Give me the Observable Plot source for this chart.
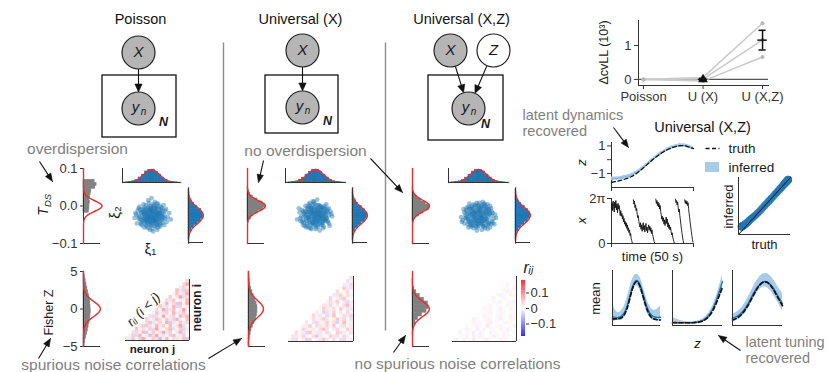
<!DOCTYPE html>
<html><head><meta charset="utf-8">
<script src="https://cdn.jsdelivr.net/npm/d3@7"></script>
<script src="https://cdn.jsdelivr.net/npm/@observablehq/plot@0.6"></script>
<style>
body{margin:0;background:#fff;}
#fig{position:relative;width:828px;height:372px;overflow:hidden;background:#fff;}
#fig svg text{font-family:'Liberation Sans',Arial,Helvetica,'DejaVu Sans',sans-serif !important;}
#fig g[aria-label*="axis"] text,#fig g[aria-label*="axis"]{font-size:13px;}
</style></head><body><div id="fig"></div>
<script>
// ===================== DATA =====================
// Delta cvLL per session (10^3) for the three models
const models = ["Poisson", "U (X)", "U (X,Z)"];
const cvllSessionA = [0, 0.06, 1.66];
const cvllSessionB = [0, 0.01, 1.17];
const cvllSessionC = [0, -0.05, 0.66];
const cvllMean = [0, 0.0, 1.16];
const cvllSem = [0, 0.03, 0.29];

// standard normal shape used by the fitted (red) curves
const gaussZ = [-3.5,-3.25,-3,-2.75,-2.5,-2.25,-2,-1.75,-1.5,-1.25,-1,-0.75,-0.5,-0.25,0,0.25,0.5,0.75,1,1.25,1.5,1.75,2,2.25,2.5,2.75,3,3.25,3.5];
const gaussPdf = [0.0009,0.0020,0.0044,0.0091,0.0175,0.0317,0.0540,0.0863,0.1295,0.1826,0.2420,0.3011,0.3521,0.3867,0.3989,0.3867,0.3521,0.3011,0.2420,0.1826,0.1295,0.0863,0.0540,0.0317,0.0175,0.0091,0.0044,0.0020,0.0009];

// T_DS histograms (densities, bin width 0.008)
const tdsPoissonStart = -0.018, tdsUXStart = -0.044, tdsUXZStart = -0.044, tdsBinWidth = 0.008;
const tdsPoissonDens = [8,9,9,10,9,10,11,12,18,20,17];
const tdsUXDens = [2,5,9,16,24,27,23,15,8,4,2,1];
const tdsUXZDens = [1,4,10,17,25,26,20,13,7,3,1,1];
const tdsFitMu = [0, 0, 0];
const tdsFitSd = [0.014, 0.0145, 0.0153];

// Fisher Z histograms (densities, bins of 0.5 from -5 to 5)
const fzStart = -5, fzBinWidth = 0.5;
const fzPoissonDens = [0.025,0.04,0.06,0.08,0.10,0.12,0.14,0.155,0.165,0.17,0.165,0.16,0.15,0.13,0.11,0.09,0.07,0.05,0.035,0.02];
const fzUXDens = [0.01,0.02,0.03,0.05,0.07,0.10,0.14,0.18,0.20,0.21,0.21,0.19,0.16,0.12,0.09,0.06,0.04,0.03,0.02,0.01];
const fzUXZDens = [0,0,0,0.004,0.012,0.03,0.07,0.13,0.22,0.33,0.38,0.36,0.27,0.17,0.09,0.04,0.015,0.005,0,0];
const fzFitMu = [0, 0, 0];
const fzFitSd = [1.0, 1.13, 1.0];

// xi marginals (densities, bins of 0.4 from -3.2)
const xiStart = -3.2, xiBinWidth = 0.4;
const xi1Poisson = [0.005,0.013,0.037,0.077,0.152,0.238,0.338,0.387,0.395,0.328,0.246,0.148,0.082,0.033,0.015,0.004];
const xi2Poisson = [0.004,0.016,0.033,0.081,0.147,0.245,0.327,0.394,0.389,0.339,0.237,0.153,0.076,0.036,0.012,0.006];
const xi1UX = [0.003,0.015,0.034,0.082,0.148,0.244,0.329,0.392,0.393,0.336,0.239,0.151,0.078,0.035,0.013,0.005];
const xi2UX = [0.006,0.012,0.038,0.075,0.154,0.236,0.336,0.389,0.396,0.326,0.247,0.146,0.084,0.031,0.016,0.003];
const xi1UXZ = [0.004,0.014,0.036,0.079,0.149,0.241,0.334,0.393,0.386,0.337,0.243,0.149,0.077,0.038,0.012,0.005];
const xi2UXZ = [0.005,0.013,0.035,0.080,0.151,0.240,0.331,0.390,0.394,0.331,0.244,0.152,0.079,0.034,0.014,0.004];

// xi scatter samples (tenths)
const xiPtsPoisson = [[3,-7],[12,-1],[5,-14],[8,0],[-4,19],[-9,2],[6,-11],[15,-3],[7,-6],[1,-17],[10,4],[-2,-8],[13,-5],[9,-12],[0,22],[-3,6],[-10,2],[-15,11],[5,-7],[-1,8],[-6,-3],[4,9],[-12,-6],[2,14],[-8,-1],[17,6],[-5,-10],[11,3],[-2,1],[-13,-9],[7,12],[-4,-4],[0,5],[20,-2],[-7,8],[3,-2],[-16,-4],[9,7],[-1,-13],[6,2],[-11,5],[14,-9],[-3,-1],[1,11],[-9,-15],[4,-4],[-19,1],[8,15],[-6,6],[12,10],[2,-5],[-5,3],[16,-12],[-10,-7],[0,-2],[7,-18],[-14,7],[5,4],[-2,-11],[10,-4],[-7,13],[3,0],[-21,-3],[13,2],[-4,9],[6,-9],[-8,4],[1,-6],[18,8],[-12,-12],[9,-1],[-3,16],[4,6],[-6,-6],[11,-14],[-1,3],[-16,9],[2,-20],[8,-8],[-9,10],[5,1],[-5,-2],[14,5],[-2,7],[0,-9],[-11,-1],[7,4],[-18,-10],[3,12],[10,-10],[-7,-5],[6,8],[-13,3],[2,-3],[15,13],[-4,-16],[0,1],[-8,-9],[9,3],[-1,-4],[12,-6],[-15,-2],[4,17],[-6,1],[24,-5],[-3,-7],[1,6],[-10,14],[7,-3],[-2,-1],[19,-8],[-12,4],[5,10],[-7,-12],[3,-10],[-5,5],[11,0],[-1,9],[8,-15],[-17,6],[2,2],[-9,-4],[13,9],[-4,1],[0,-12],[6,-1],[-11,8],[10,12],[-3,-3],[16,1],[-6,-14],[4,-6],[-14,-5],[1,4],[9,-5],[-20,3],[7,9],[-8,-7],[3,5],[-2,-18],[12,7],[-5,-8],[5,-2],[-10,-3],[17,-4],[-1,12],[8,2],[-13,-11],[2,-8],[-4,11],[14,-1],[-7,2],[0,8],[11,-11],[-16,0],[6,15],[-3,-6],[22,3],[-9,7],[4,-13]];
const xiPtsUX = [[-5,8],[2,13],[-11,-4],[7,-1],[14,6],[-3,-9],[0,3],[9,-16],[-8,11],[4,-2],[-15,5],[12,-7],[-1,-12],[6,4],[-18,-3],[3,9],[-7,-6],[10,1],[-2,17],[16,-10],[-9,0],[5,-5],[-4,7],[11,12],[-13,-13],[1,-1],[8,9],[-6,3],[19,2],[-10,-10],[2,-7],[-3,14],[13,-3],[-12,6],[0,-4],[7,11],[-16,-8],[4,2],[-1,5],[9,-9],[-5,-17],[15,4],[-8,-2],[3,-14],[-20,9],[6,7],[-2,-5],[12,1],[-7,16],[1,-10],[-14,2],[10,-6],[-4,-1],[5,12],[-11,-7],[17,-13],[-1,0],[8,-4],[-9,4],[2,20],[-6,-11],[14,8],[-3,2],[0,-7],[11,5],[-17,-1],[6,-8],[-10,10],[3,1],[-5,-4],[20,-1],[-2,9],[7,-12],[-13,0],[4,6],[-8,-15],[9,3],[-1,-2],[13,14],[-15,-6],[1,8],[-4,-8],[10,-2],[-7,5],[5,-19],[-12,12],[16,0],[-3,-12],[2,4],[-9,-3],[8,-11],[-6,9],[11,-5],[-19,4],[0,11],[-2,-3],[6,1],[-10,-13],[15,-8],[-5,6],[3,-6],[-14,-9],[9,10],[-1,15],[4,-3],[-7,-1],[12,4],[-16,7],[1,-15],[7,6],[-11,1],[5,-10],[-4,3],[18,5],[-8,-5],[2,-1],[-3,18],[10,-14],[-12,-2],[0,6],[13,-4],[-6,-16],[6,11],[-9,8],[3,-8],[-22,-5],[8,1],[-2,-9],[11,9],[-5,2],[4,13],[-15,-12],[14,-6],[-1,-6],[7,-2],[-10,5],[1,2],[-6,12],[16,9],[-3,-10],[9,-7],[-13,4],[5,3],[-8,14],[2,-12],[-18,-7],[12,-1],[-4,10],[0,-17],[10,7],[-7,-9],[3,7],[-11,-15],[6,-4],[-2,4]];
const xiPtsUXZ = [[4,-3],[-9,6],[13,2],[-2,-10],[7,15],[-14,-1],[1,7],[10,-8],[-6,-5],[3,11],[-17,4],[8,-2],[-1,-15],[15,9],[-5,1],[0,-6],[11,-12],[-8,10],[5,5],[-12,-8],[2,-1],[18,-4],[-4,13],[6,-14],[-10,0],[9,3],[-3,-4],[14,12],[-7,-13],[1,-9],[-15,7],[12,6],[-1,2],[4,-18],[-19,-6],[7,8],[-5,-7],[10,0],[-2,16],[16,-7],[-11,3],[3,-5],[-6,9],[8,13],[-13,-11],[0,4],[12,-10],[-8,-2],[5,-8],[-4,6],[20,1],[-9,-14],[2,10],[-16,-3],[9,-4],[-3,1],[6,14],[-12,11],[1,-3],[14,-15],[-7,4],[3,8],[-21,-2],[11,2],[-1,-11],[7,-6],[-10,-9],[4,12],[-5,-1],[17,3],[-14,10],[0,-13],[9,6],[-2,-6],[5,17],[-8,1],[13,-9],[-17,-10],[2,5],[-4,-3],[10,9],[-11,-5],[6,-11],[-1,7],[19,-11],[-6,14],[3,-2],[-13,2],[8,-16],[-3,11],[15,0],[-9,-7],[1,1],[-5,-12],[11,14],[-15,-4],[7,3],[-2,-19],[4,-7],[-10,8],[12,-3],[-7,-8],[0,9],[16,5],[-12,-15],[5,-1],[-4,3],[9,-13],[-18,8],[2,-4],[-1,12],[13,7],[-8,-11],[6,0],[-11,15],[3,-9],[-6,-2],[10,-5],[-14,5],[1,16],[8,-7],[-3,-14],[14,3],[-9,2],[4,1],[-20,-8],[7,10],[-5,4],[11,-17],[-2,-7],[0,13],[-13,-3],[17,-9],[-7,7],[3,3],[-10,-12],[9,11],[-4,-9],[5,-13],[-16,1],[12,8],[-1,-2],[6,-5],[-8,12],[2,6],[-12,-6],[15,-11],[-3,5],[0,-10],[8,4],[-6,-16],[21,-3],[-11,9],[4,-11]];

// noise correlations r_ij in units of 0.005, row i holds j = i+1 .. 19
const corrUnit = 0.005;
const corrPoisson = [[4,-3,8,1,-6,12,3,-2,7,5,-9,2,10,-1,6,-4,3,9,-7],[2,7,-5,11,0,4,-8,6,13,-2,5,1,-6,9,3,-3,8,1],[-4,6,3,10,-7,2,8,-1,5,12,-3,7,0,4,-9,6,2],[9,-2,5,1,7,-5,14,3,-1,6,10,-4,2,8,-6,4],[3,8,-6,5,2,11,-3,7,0,9,-2,4,13,-5,1],[-1,6,9,-4,3,7,1,12,-7,5,2,8,-3,6],[7,2,-3,10,5,-1,8,4,-6,11,3,0,9],[5,-5,6,2,13,-2,4,7,1,-8,6,10],[-2,9,3,-4,7,1,11,-3,5,8,2],[6,1,12,-6,4,9,-1,3,14,-2],[8,-3,5,2,10,-5,7,1,4],[3,11,-1,6,-7,9,2,12],[-4,5,8,1,3,-2,10],[7,-1,4,13,-5,6],[2,9,-3,5,11],[10,4,-6,8],[-2,7,3],[5,12],[6]];
const corrUX = [[2,-4,5,0,3,-6,7,1,-2,4,8,-3,1,5,-1,6,-5,2,3],[-3,4,1,6,-2,0,5,-7,3,2,-1,7,4,-4,1,6,-2,0],[5,-1,3,-5,8,2,-3,4,1,6,-2,0,7,-4,3,1,5],[1,6,-3,2,4,-1,5,9,-4,0,3,6,-2,1,7,-3],[-2,3,7,1,-5,4,2,6,-1,8,0,-3,5,2,4],[4,0,-4,6,3,-2,7,1,5,-6,2,9,-1,3],[0,5,2,-3,7,4,-1,3,8,-2,6,1,-4],[6,-2,4,1,-5,3,9,0,2,5,-3,7],[3,1,-6,5,2,7,-1,4,0,6,-2],[-1,7,3,-2,5,0,8,2,-4,4],[4,-3,6,1,3,-1,5,9,2],[2,5,-2,7,0,4,-5,3],[6,1,3,-4,8,2,0],[-3,4,7,1,5,-2],[5,0,2,6,-1],[1,8,-3,4],[3,-2,6],[-4,2],[5]];
const corrUXZ = [[1,-2,0,2,-1,1,3,-1,0,2,-2,1,0,-1,2,1,-1,0,2],[0,1,-1,2,0,-2,1,2,-1,0,1,3,-1,0,2,-1,1,0],[2,0,1,-1,3,0,-2,1,0,2,-1,1,0,2,-1,0,1],[-1,2,1,0,-2,1,2,0,1,-1,0,2,1,-2,1,0],[1,0,-1,2,1,0,3,-1,0,1,2,-1,0,1,2],[0,2,1,-1,0,2,-2,1,1,0,-1,2,1,0],[2,-1,0,1,2,-1,0,1,-2,1,0,2,1],[1,0,2,-1,1,0,-1,2,1,0,2,-1],[0,1,-1,2,0,1,2,-1,0,1,1],[-1,1,2,0,1,-2,1,0,2,1],[1,2,0,-1,1,0,2,1,-1],[0,-1,1,2,0,1,-1,2],[2,0,1,-1,1,0,1],[1,2,-1,0,2,1],[0,1,2,-1,0],[1,-1,0,2],[2,0,1],[0,1],[1]];
const corrTicks = [-0.1, 0, 0.1];

// latent z over 50 s (1 s samples)
const zTruth = [-1.64,-1.62,-1.60,-1.58,-1.55,-1.52,-1.49,-1.46,-1.42,-1.38,-1.34,-1.29,-1.24,-1.18,-1.10,-1.02,-0.93,-0.84,-0.74,-0.64,-0.53,-0.43,-0.32,-0.22,-0.11,-0.01,0.08,0.18,0.27,0.36,0.44,0.52,0.59,0.66,0.72,0.78,0.83,0.88,0.92,0.95,0.98,1.00,1.02,1.02,1.02,1.00,0.97,0.93,0.88,0.84,0.80];
const zInfMean = [-1.38,-1.41,-1.36,-1.39,-1.34,-1.36,-1.31,-1.30,-1.27,-1.25,-1.21,-1.18,-1.13,-1.07,-1.00,-0.95,-0.87,-0.80,-0.71,-0.62,-0.52,-0.42,-0.31,-0.21,-0.10,-0.01,0.09,0.18,0.28,0.36,0.45,0.52,0.60,0.66,0.73,0.79,0.84,0.89,0.93,0.96,0.99,1.02,1.04,1.03,1.05,1.01,0.99,0.95,0.91,0.86,0.83];
const zInfHalf = [0.12,0.15,0.10,0.14,0.11,0.13,0.09,0.14,0.12,0.10,0.13,0.11,0.15,0.10,0.12,0.09,0.13,0.11,0.14,0.10,0.12,0.13,0.09,0.12,0.14,0.10,0.11,0.13,0.10,0.12,0.14,0.09,0.12,0.11,0.13,0.10,0.14,0.12,0.09,0.13,0.11,0.12,0.15,0.10,0.13,0.11,0.12,0.14,0.10,0.12,0.11];

// observed angle x over 50 s (150 samples, null = wrap)
const xAngle = [4.9,5.7,4.6,5.9,5.1,4.4,5.8,5.0,6.0,4.7,5.5,4.3,5.6,4.8,5.3,
  4.5,3.9,4.6,3.8,4.2,3.4,3.9,3.0,3.5,2.7,3.1,2.4,2.9,2.1,2.6,1.8,2.2,1.5,1.9,1.1,1.4,0.7,0.4,0.1,
  null,
  6.1,5.5,5.9,5.0,5.4,4.6,4.9,4.1,3.6,3.9,3.1,2.7,
  2.3,2.9,2.0,2.6,1.7,2.4,2.9,1.9,2.5,1.6,2.2,2.8,1.8,2.3,1.5,2.1,2.6,1.9,2.4,1.7,2.2,1.4,1.9,
  1.3,1.0,0.6,0.3,0.05,
  null,
  6.2,5.6,6.0,5.3,5.8,5.1,5.6,4.8,5.3,4.5,
  4.0,3.4,3.8,3.1,3.6,2.7,3.3,2.5,3.0,3.7,2.8,3.4,2.3,2.9,2.1,2.6,1.9,2.3,
  1.7,1.2,1.5,0.9,0.6,0.3,0.05,
  null,
  6.2,5.7,6.0,5.4,5.8,5.0,4.4,4.8,3.9,3.3,2.6,2.0,1.4,0.9,0.4,0.05,
  null,
  6.1,5.6,6.0,5.5,5.9,5.3,5.7,4.9,4.2,3.6,2.9,2.3,1.7,1.1,0.6,0.2];
const xAngleDuration = 50;

// latent tuning curves (normalised mean vs z)
const tuningZ = [0,0.1,0.2,0.3,0.4,0.5,0.6,0.7,0.8,0.9,1];
const tuning1Truth = [0.12,0.12,0.15,0.30,0.62,0.80,0.64,0.34,0.16,0.11,0.10];
const tuning1Mean = [0.16,0.14,0.18,0.34,0.66,0.82,0.68,0.38,0.20,0.15,0.15];
const tuning1Lo = [0.06,0.09,0.10,0.24,0.55,0.72,0.58,0.28,0.12,0.09,0.07];
const tuning1Hi = [0.38,0.24,0.28,0.48,0.80,0.93,0.82,0.52,0.32,0.28,0.36];
const tuning2Truth = [0.05,0.05,0.05,0.05,0.05,0.06,0.08,0.14,0.26,0.46,0.70];
const tuning2Mean = [0.06,0.05,0.05,0.05,0.05,0.06,0.09,0.16,0.29,0.52,0.80];
const tuning2Lo = [0.02,0.03,0.03,0.03,0.03,0.04,0.06,0.12,0.24,0.44,0.66];
const tuning2Hi = [0.14,0.11,0.08,0.07,0.07,0.08,0.12,0.20,0.35,0.60,0.92];
const tuning3Truth = [0.10,0.14,0.22,0.35,0.52,0.68,0.78,0.78,0.68,0.52,0.36];
const tuning3Mean = [0.13,0.17,0.25,0.38,0.55,0.70,0.79,0.79,0.70,0.55,0.40];
const tuning3Lo = [0.05,0.10,0.17,0.29,0.45,0.60,0.69,0.68,0.58,0.43,0.27];
const tuning3Hi = [0.20,0.25,0.34,0.49,0.67,0.83,0.93,0.94,0.86,0.72,0.58];

// ===================== HELPERS =====================
const FONT = "'Liberation Sans', Arial, Helvetica, 'DejaVu Sans', sans-serif";
const fig = document.getElementById("fig");
const C = {gray: "#808080", red: "#ee2a2a", blue: "#1f77b4", band: "#a8cbe8", axis: "#333", note: "#7f7f7f"};

function place(frame, m, opts) {
  const [x0, y0, x1, y1] = frame;
  const svg = Plot.plot({
    width: x1 - x0 + m[1] + m[3], height: y1 - y0 + m[0] + m[2],
    marginTop: m[0], marginRight: m[1], marginBottom: m[2], marginLeft: m[3],
    ...opts
  });
  Object.assign(svg.style, {position: "absolute", left: (x0 - m[3]) + "px", top: (y0 - m[0]) + "px",
    background: "transparent", overflow: "visible", fontFamily: FONT, fontSize: "13px", color: C.axis, maxWidth: "none"});
  fig.appendChild(svg);
  return svg;
}
const bins = (start, w, dens) => dens.map((d, k) => ({lo: start + k * w, hi: start + (k + 1) * w, d}));
const fit = (mu, sd, lo, hi) => [{v: lo, d: 0}, ...gaussZ.map((z, k) => ({v: mu + sd * z, d: gaussPdf[k] / sd})), {v: hi, d: 0}];
const cells = rows => rows.flatMap((row, i) => row.map((v, k) => ({i, j: i + 1 + k, v: v * corrUnit})));
const corrColor = {type: "linear", domain: [-0.18, 0, 0.18], range: ["#0000ff", "#ffffff", "#ff0000"], interpolate: "rgb", clamp: true};

// ===================== LAYOUT (pixel frames) =====================
const colFrames = [
  {tds: [83,168,100,243], top: [122,168,180,182], sc: [122,188,180,242], right: [188,188,203,242], fz: [83,271,100,346], corr: [125,279,189,340]},
  {tds: [247,168,264,243], top: [285,168,345,182], sc: [285,188,345,242], right: [352,188,367,242], fz: [248,271,265,346], corr: [288,276,353,341]},
  {tds: [412,168,429,243], top: [448,168,508,182], sc: [448,188,508,242], right: [515,188,530,242], fz: [412,271,429,346], corr: [452,276,516,341]}
];
const cols = [
  {tdsStart: tdsPoissonStart, tds: tdsPoissonDens, fz: fzPoissonDens, xi1: xi1Poisson, xi2: xi2Poisson, pts: xiPtsPoisson, corr: corrPoisson},
  {tdsStart: tdsUXStart, tds: tdsUXDens, fz: fzUXDens, xi1: xi1UX, xi2: xi2UX, pts: xiPtsUX, corr: corrUX},
  {tdsStart: tdsUXZStart, tds: tdsUXZDens, fz: fzUXZDens, xi1: xi1UXZ, xi2: xi2UXZ, pts: xiPtsUXZ, corr: corrUXZ}
];

// ===================== PANEL: Delta cvLL =====================
{
  const rows = [];
  [cvllSessionA, cvllSessionB, cvllSessionC].forEach((s, k) => s.forEach((v, i) => rows.push({k, i, v})));
  const summ = models.map((m, i) => ({i, m: cvllMean[i], lo: cvllMean[i] - cvllSem[i], hi: cvllMean[i] + cvllSem[i]})).filter(d => d.i > 0);
  place([638,20,768,85], [4,20,24,40], {
    x: {domain: [-0.084, 2.1], ticks: [0,1,2], tickFormat: i => models[i], tickSize: 4, tickPadding: 2, line: true, label: null},
    y: {domain: [-0.18, 1.74], ticks: [0,1], tickFormat: "d", tickSize: 4, tickPadding: 3, line: true, label: null},
    marks: [
      Plot.ruleY([0], {stroke: "#555", strokeWidth: 1.3}),
      Plot.line(rows, {x: "i", y: "v", z: "k", stroke: "#cacaca", strokeWidth: 1.5}),
      Plot.dot(rows, {x: "i", y: "v", r: 2, fill: "#b9b9b9"}),
      Plot.ruleX(summ, {x: "i", y1: "lo", y2: "hi", stroke: "#111", strokeWidth: 1.5}),
      Plot.ruleY(summ, {y: "hi", x1: d => d.i - 0.06, x2: d => d.i + 0.06, stroke: "#111", strokeWidth: 1.5}),
      Plot.ruleY(summ, {y: "lo", x1: d => d.i - 0.06, x2: d => d.i + 0.06, stroke: "#111", strokeWidth: 1.5}),
      Plot.ruleY(summ, {y: "m", x1: d => d.i - 0.08, x2: d => d.i + 0.08, stroke: "#111", strokeWidth: 1.5}),
      Plot.dot(summ.filter(d => d.i === 1), {x: "i", y: "m", symbol: "triangle", r: 3.6, fill: "#111"})
    ]
  });
}

// ===================== PANELS: three model columns =====================
cols.forEach((c, n) => {
  const f = colFrames[n];
  // T_DS histogram
  place(f.tds, [6,12,6,40], {
    x: {domain: [0, 26], axis: null},
    y: n === 0 ? {domain: [-0.1, 0.1], ticks: [-0.1, 0, 0.1], tickFormat: ".1f", tickSize: 3, tickPadding: 3, line: true, label: null}
               : {domain: [-0.1, 0.1], axis: null},
    marks: [
      Plot.rect(bins(c.tdsStart, tdsBinWidth, c.tds), {x1: 0, x2: "d", y1: "lo", y2: "hi", fill: C.gray, stroke: C.gray, strokeWidth: 0.6}),
      Plot.ruleX([0], {stroke: C.axis}),
      Plot.ruleY([-0.1], {stroke: C.axis}),
      Plot.line(fit(tdsFitMu[n], tdsFitSd[n], -0.1, 0.1), {x: "d", y: "v", stroke: C.red, strokeWidth: 1.4})
    ]
  });
  // top marginal xi1
  place(f.top, [2,2,2,2], {
    x: {domain: [-3.6, 3.6], axis: null}, y: {domain: [0, 0.43], axis: null},
    marks: [
      Plot.rect(bins(xiStart, xiBinWidth, c.xi1), {x1: "lo", x2: "hi", y1: 0, y2: "d", fill: C.blue, stroke: C.blue, strokeWidth: 0.6}),
      Plot.line(fit(0, 1, -3.6, 3.6), {x: "v", y: "d", stroke: C.red, strokeWidth: 1.3}),
      Plot.ruleX([-3.6], {stroke: C.axis}), Plot.ruleY([0], {stroke: C.axis})
    ]
  });
  // right marginal xi2
  place(f.right, [2,4,2,2], {
    x: {domain: [0, 0.4], axis: null}, y: {domain: [-3.4, 3.4], axis: null},
    marks: [
      Plot.rect(bins(xiStart, xiBinWidth, c.xi2), {y1: "lo", y2: "hi", x1: 0, x2: "d", fill: C.blue, stroke: C.blue, strokeWidth: 0.6}),
      Plot.line(fit(0, 1, -3.4, 3.4), {x: "d", y: "v", stroke: C.red, strokeWidth: 1.3}),
      Plot.ruleX([0], {stroke: C.axis}), Plot.ruleY([-3.4], {stroke: C.axis})
    ]
  });
  // scatter xi1 vs xi2
  place(f.sc, [2,2,2,2], {
    x: {domain: [-3.6, 3.6], axis: null}, y: {domain: [-3.4, 3.4], axis: null},
    marks: [Plot.dot(c.pts, {x: d => d[0] / 10, y: d => d[1] / 10, r: 2.4, fill: C.blue, fillOpacity: 0.45, stroke: "none"})]
  });
  // Fisher Z histogram
  place(f.fz, [6,12,6,40], {
    x: {domain: [0, 0.4], axis: null},
    y: n === 0 ? {domain: [-5, 5], ticks: [-5, 0, 5], tickFormat: "d", tickSize: 3, tickPadding: 3, line: true, label: null}
               : {domain: [-5, 5], axis: null},
    marks: [
      Plot.rect(bins(fzStart, fzBinWidth, c.fz), {x1: 0, x2: "d", y1: "lo", y2: "hi", fill: C.gray, stroke: C.gray, strokeWidth: 0.6}),
      Plot.ruleX([0], {stroke: C.axis}),
      Plot.ruleY([-5], {stroke: C.axis}),
      Plot.line(fit(fzFitMu[n], fzFitSd[n], -5, 5), {x: "d", y: "v", stroke: C.red, strokeWidth: 1.4})
    ]
  });
  // noise correlation triangle
  place(f.corr, [2,2,2,2], {
    x: {domain: [0.5, 19.5], axis: null}, y: {domain: [-0.5, 18.5], axis: null},
    color: corrColor,
    marks: [
      Plot.rect(cells(c.corr), {x1: d => d.j - 0.5, x2: d => d.j + 0.5, y1: d => d.i - 0.5, y2: d => d.i + 0.5, fill: "v", stroke: "v", strokeWidth: 0.4}),
      Plot.ruleX([19.5], {stroke: C.axis}), Plot.ruleY([-0.5], {stroke: C.axis})
    ]
  });
});

// colour bar
{
  const ramp = d3.range(-0.18, 0.18, 0.004).map(v => ({v}));
  place([521,280,525,336], [2,40,2,2], {
    x: {domain: [0, 1], axis: null},
    y: {domain: [-0.18, 0.18], ticks: corrTicks, tickFormat: d => d === 0 ? "0" : d3.format(".1f")(d), axis: "right", tickSize: 3, tickPadding: 2, label: null},
    color: corrColor,
    marks: [Plot.rect(ramp, {x1: 0, x2: 1, y1: "v", y2: d => d.v + 0.0045, fill: "v"})]
  });
}

// ===================== PANELS: right column =====================
const zRows = zTruth.map((v, t) => ({t, truth: v, m: zInfMean[t], lo: zInfMean[t] - zInfHalf[t], hi: zInfMean[t] + zInfHalf[t]}));
place([611,142,693,187], [4,8,8,30], {
  x: {domain: [0, 50], ticks: [0, 50], tickFormat: () => "", tickSize: 4, line: true, label: null},
  y: {domain: [-2.02, 1.25], ticks: [-1, 0, 1], tickFormat: d => d === 0 ? "" : d3.format("d")(d), tickSize: 4, tickPadding: 2, line: true, label: null},
  marks: [
    Plot.areaY(zRows, {x: "t", y1: "lo", y2: "hi", fill: C.band}),
    Plot.line(zRows, {x: "t", y: "m", stroke: "#7fb1dc", strokeWidth: 1}),
    Plot.line(zRows, {x: "t", y: "truth", stroke: "#111", strokeWidth: 1.3, strokeDasharray: "4,2.5"})
  ]
});
place([611,198,693,243], [4,8,8,30], {
  x: {domain: [0, 50], ticks: [0, 50], tickFormat: () => "", tickSize: 4, line: true, label: null},
  y: {domain: [0, 2 * Math.PI], ticks: [0, 2 * Math.PI], tickFormat: d => d === 0 ? "0" : "2π", tickSize: 4, tickPadding: 2, line: true, label: null},
  marks: [Plot.line(xAngle.map((a, k) => ({t: k * xAngleDuration / xAngle.length, a})), {x: "t", y: "a", stroke: "#111", strokeWidth: 0.9})]
});
place([738,177,790,234], [2,2,2,2], {
  x: {domain: [-1.8, 1.15], axis: null}, y: {domain: [-1.8, 1.15], axis: null},
  marks: [
    Plot.dot(zRows, {x: "truth", y: "m", r: 3.8, fill: C.blue, fillOpacity: 0.8, stroke: "none"}),
    Plot.line([-1.8, 1.15], {x: d => d, y: d => d, stroke: "#111", strokeWidth: 1}),
    Plot.ruleX([-1.8], {stroke: C.axis}), Plot.ruleY([-1.8], {stroke: C.axis})
  ]
});
[[tuning1Truth, tuning1Mean, tuning1Lo, tuning1Hi, [612,270,660,325]],
 [tuning2Truth, tuning2Mean, tuning2Lo, tuning2Hi, [672,270,722,325]],
 [tuning3Truth, tuning3Mean, tuning3Lo, tuning3Hi, [732,270,782,325]]].forEach(([tr, mn, lo, hi, fr]) => {
  const rows = tuningZ.map((z, k) => ({z, tr: tr[k], mn: mn[k], lo: lo[k], hi: hi[k]}));
  place(fr, [2,2,2,2], {
    x: {domain: [0, 1], axis: null}, y: {domain: [0, 1], axis: null},
    marks: [
      Plot.areaY(rows, {x: "z", y1: "lo", y2: "hi", fill: C.band, curve: "natural"}),
      Plot.line(rows, {x: "z", y: "mn", stroke: C.blue, strokeWidth: 1.4, curve: "natural"}),
      Plot.line(rows, {x: "z", y: "tr", stroke: "#111", strokeWidth: 1.7, strokeDasharray: "4,2.5", curve: "natural"}),
      Plot.ruleX([0], {stroke: C.axis}), Plot.ruleY([0], {stroke: C.axis})
    ]
  });
});

// ===================== ANNOTATION LAYER =====================
const nodes = [
  {x:138, y:52, f:"#b5b5b5", t:"X"}, {x:138, y:108, f:"#b5b5b5", t:"y"},
  {x:302, y:50, f:"#b5b5b5", t:"X"}, {x:302, y:107, f:"#b5b5b5", t:"y"},
  {x:450, y:50, f:"#b5b5b5", t:"X"}, {x:493, y:50, f:"#ffffff", t:"Z"}, {x:468, y:108, f:"#b5b5b5", t:"y"}
];
const nodeR = 16.5;
const edges = [[0,1],[2,3],[4,6],[5,6]];
const boxes = [[102,75,176,137],[265,75,338,133],[428,75,503,140]];
const plateN = [[163,121],[327,120],[485,123]];
const separators = [[223,42,223,330],[385,42,385,330]];
const noteArrows = [[39,161,52,181],[263,160,258,182],[370,158,402,192],[38,358,50,338],[208,358,241,338],[393,352,405,335],[613,127,628,147],[740,350,718,335]];

const shafts = [], heads = [];
function arrow(x1, y1, x2, y2, len, hw) {
  const dx = x2 - x1, dy = y2 - y1, L = Math.hypot(dx, dy), ux = dx / L, uy = dy / L;
  const bx = x2 - ux * len, by = y2 - uy * len, id = heads.length;
  shafts.push({x1, y1, x2: bx + ux, y2: by + uy});
  heads.push({id, x: x2, y: y2}, {id, x: bx - uy * hw, y: by + ux * hw}, {id, x: bx + uy * hw, y: by - ux * hw}, {id, x: x2, y: y2});
}
edges.forEach(([a, b]) => {
  const A = nodes[a], B = nodes[b], dx = B.x - A.x, dy = B.y - A.y, L = Math.hypot(dx, dy);
  arrow(A.x + dx / L * nodeR, A.y + dy / L * nodeR, B.x - dx / L * nodeR, B.y - dy / L * nodeR, 8, 3.6);
});
noteArrows.forEach(([x1, y1, x2, y2]) => arrow(x1, y1, x2, y2, 8, 3.2));

const txt = (items, o) => Plot.text(items, {x: d => d[1], y: d => d[2], text: d => d[0], fill: "#1a1a1a", ...o});
const overlay = Plot.plot({
  width: 828, height: 372, margin: 0,
  x: {domain: [0, 828], range: [0, 828], axis: null},
  y: {domain: [0, 372], range: [0, 372], axis: null},
  marks: [
    Plot.link(separators, {x1: d => d[0], y1: d => d[1], x2: d => d[2], y2: d => d[3], stroke: "#8c8c8c", strokeWidth: 1.4}),
    Plot.rect(boxes, {x1: d => d[0], y1: d => d[1], x2: d => d[2], y2: d => d[3], fill: "none", stroke: "#111", strokeWidth: 1.3}),
    Plot.link(shafts, {x1: "x1", y1: "y1", x2: "x2", y2: "y2", stroke: "#111", strokeWidth: 1.1}),
    Plot.line(heads, {x: "x", y: "y", z: "id", fill: "#111", stroke: "#111", strokeWidth: 0.6}),
    Plot.dot(nodes, {x: "x", y: "y", r: nodeR, fill: "f", stroke: "#222", strokeWidth: 1.2}),
    txt(nodes.filter(d => d.t !== "y").map(d => [d.t, d.x, d.y]), {fontSize: 15, fontStyle: "italic"}),
    txt(nodes.filter(d => d.t === "y").map(d => ["y", d.x - 3, d.y - 1]), {fontSize: 15, fontStyle: "italic"}),
    txt(nodes.filter(d => d.t === "y").map(d => ["n", d.x + 5, d.y + 3]), {fontSize: 10, fontStyle: "italic"}),
    txt(plateN.map(p => ["N", p[0], p[1]]), {fontSize: 12.5, fontStyle: "italic", fontWeight: "bold"}),
    // titles
    txt([["Poisson",140,19],["Universal (X)",300,19],["Universal (X,Z)",461,19],["Universal (X,Z)",702,127]], {fontSize: 14.5, fill: "#111"}),
    // grey notes
    txt([["overdispersion",77,149],["no overdispersion",305,151],["spurious noise correlations",113,365],["no spurious noise correlations",457,364]], {fontSize: 15.5, fill: C.note}),
    txt([["latent dynamics",522,115],["recovered",522,131]], {fontSize: 14.5, fill: C.note, textAnchor: "start"}),
    txt([["latent tuning",745,342],["recovered",745,358]], {fontSize: 14.5, fill: C.note, textAnchor: "start"}),
    // axis labels
    txt([["ΔcvLL (10³)",603,52]], {fontSize: 12.5, rotate: -90}),
    txt([["T",43,211]], {fontSize: 14, fontStyle: "italic", rotate: -90}),
    txt([["DS",47,200]], {fontSize: 9.5, fontStyle: "italic", rotate: -90}),
    txt([["ξ₂",115,212]], {fontSize: 15, rotate: -90}),
    txt([["ξ₁",150,249]], {fontSize: 15}),
    txt([["Fisher Z",48,312]], {fontSize: 12.5, rotate: -90}),
    txt([["rᵢⱼ (i < j)",143,309]], {fontSize: 13, fontStyle: "italic", rotate: -45}),
    txt([["neuron i",197,307]], {fontSize: 12, fontWeight: "bold", rotate: -90}),
    txt([["neuron j",152,349]], {fontSize: 11.5, fontWeight: "bold"}),
    txt([["rᵢⱼ",528,267]], {fontSize: 16, fontStyle: "italic"}),
    txt([["z",581,162],["x",581,220]], {fontSize: 13, fontStyle: "italic", rotate: -90}),
    txt([["time (50 s)",652,256]], {fontSize: 13}),
    txt([["inferred",728,206]], {fontSize: 13, rotate: -90}),
    txt([["truth",764,244]], {fontSize: 13}),
    txt([["mean",595,298]], {fontSize: 13, rotate: -90}),
    txt([["z",697,343]], {fontSize: 13, fontStyle: "italic"}),
    // legend
    Plot.link([[705,148,719,148]], {x1: d => d[0], y1: d => d[1], x2: d => d[2], y2: d => d[3], stroke: "#111", strokeWidth: 1.5, strokeDasharray: "4,2.5"}),
    Plot.rect([[705,162,719,172]], {x1: d => d[0], y1: d => d[1], x2: d => d[2], y2: d => d[3], fill: C.band}),
    txt([["truth",728,148],["inferred",728,167]], {fontSize: 13.5, textAnchor: "start"})
  ]
});
Object.assign(overlay.style, {position: "absolute", left: "0px", top: "0px", background: "transparent", overflow: "visible", fontFamily: FONT, maxWidth: "none"});
fig.appendChild(overlay);
</script></body></html>
